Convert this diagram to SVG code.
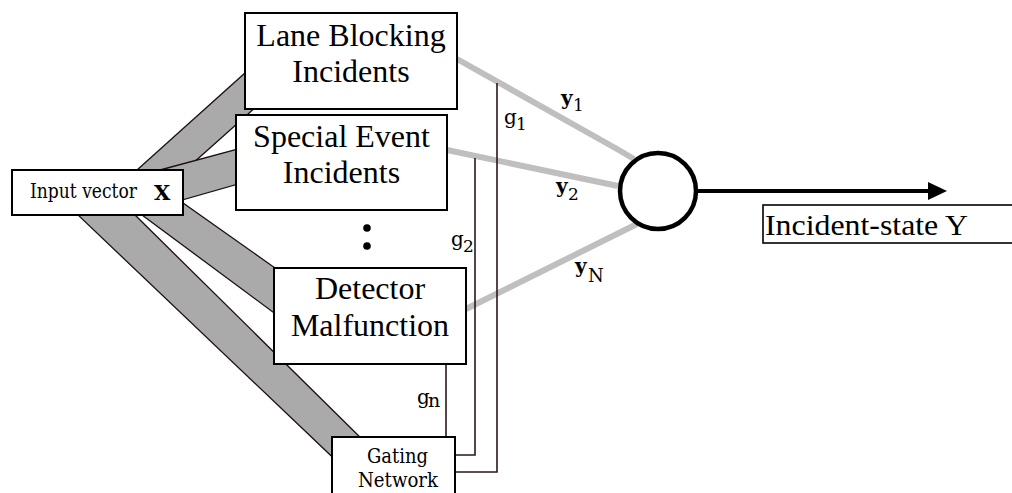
<svg xmlns="http://www.w3.org/2000/svg" width="1012" height="493" viewBox="0 0 1012 493">
<defs>
<style>
.box{fill:#fff;stroke:#000;stroke-width:2}
.band{fill:#aaaaaa;stroke:#1e1010;stroke-width:1.3;stroke-linejoin:miter}
.out{fill:none;stroke:#bfbfbf;stroke-width:6}
.gate{fill:none;stroke:#2a1818;stroke-width:1.6}
.big{font-family:"Liberation Serif","Times New Roman",serif;font-size:32px;fill:#000;text-anchor:middle}
.lbl{font-family:"Liberation Serif","Times New Roman",serif;fill:#000}
.pal{font-family:"DejaVu Serif","Liberation Serif",serif;fill:#000}
</style>
</defs>
<rect width="1012" height="493" fill="#fff"/>
<g id="connectors">
<polygon class="band" points="78,215 135,215 370,447 345,469"/>
<polygon class="band" points="137,170 255,64 266,98 183,172"/>
<polygon class="band" points="160,170 245,147 245,182 175,202"/>
<polygon class="band" points="142,215 183,203 285,275 285,321"/>
<polyline class="out" points="457,59 617,149 634,159"/>
<line class="out" x1="447" y1="150" x2="618" y2="186"/>
<line class="out" x1="466" y1="309" x2="637" y2="224"/>
<polyline class="gate" points="497,83 497,472 455,472"/>
<polyline class="gate" points="475,158 475,455 455,455"/>
<line class="gate" x1="446" y1="364" x2="446" y2="437"/>
<line x1="698" y1="191" x2="930" y2="191" stroke="#000" stroke-width="4"/>
<polygon points="928,182 947,191 928,200" fill="#000"/>
<text class="pal" x="504" y="124" font-size="20">g</text>
<text class="pal" x="516" y="130" font-size="17">1</text>
<text class="pal" x="451" y="246" font-size="20">g</text>
<text class="pal" x="463" y="252" font-size="17">2</text>
<text class="pal" x="417" y="404" font-size="20">g</text>
<text class="pal" x="428" y="407" font-size="19">n</text>
<text class="pal" x="561" y="105" font-size="20" font-weight="bold">y</text>
<text class="pal" x="573" y="111" font-size="17">1</text>
<text class="pal" x="556" y="193" font-size="20" font-weight="bold">y</text>
<text class="pal" x="568" y="200" font-size="17">2</text>
<text class="pal" x="575" y="273" font-size="20" font-weight="bold">y</text>
<text class="pal" x="588" y="282" font-size="18">N</text>
</g>
<g id="input">
<rect class="box" x="12" y="170" width="171" height="45" stroke-width="1.5"/>
<text class="pal" x="30" y="198" font-size="19.5" textLength="107" lengthAdjust="spacingAndGlyphs">Input vector</text>
<text class="pal" x="154" y="200" font-size="21" font-weight="bold">X</text>
</g>
<g id="lane">
<rect class="box" x="245" y="13" width="212" height="96"/>
<text class="big" x="351" y="46">Lane Blocking</text>
<text class="big" x="351" y="82">Incidents</text>
</g>
<g id="special">
<rect class="box" x="236" y="115" width="211" height="95"/>
<text class="big" x="341.5" y="147">Special Event</text>
<text class="big" x="341.5" y="183">Incidents</text>
</g>
<g id="dots">
<circle cx="367" cy="228" r="3.8" fill="#000"/>
<circle cx="367" cy="246" r="3.8" fill="#000"/>
</g>
<g id="detector">
<rect class="box" x="274" y="268" width="192" height="96"/>
<text class="big" x="370" y="299">Detector</text>
<text class="big" x="370" y="336">Malfunction</text>
</g>
<g id="gating">
<rect class="box" x="332" y="437" width="123" height="70" stroke-width="1.5"/>
<text class="pal" x="397.5" y="463" font-size="20" text-anchor="middle" textLength="61" lengthAdjust="spacingAndGlyphs">Gating</text>
<text class="pal" x="398" y="487" font-size="20" text-anchor="middle" textLength="80" lengthAdjust="spacingAndGlyphs">Network</text>
</g>
<g id="combiner">
<circle cx="658" cy="191" r="38" fill="#fff" stroke="#000" stroke-width="4.5"/>
</g>
<g id="output">
<rect x="763" y="205" width="262" height="38" fill="#fff" stroke="#000" stroke-width="1.6"/>
<text class="lbl" x="765" y="235" font-size="30" textLength="203" lengthAdjust="spacingAndGlyphs">Incident-state Y</text>
</g>
</svg>
